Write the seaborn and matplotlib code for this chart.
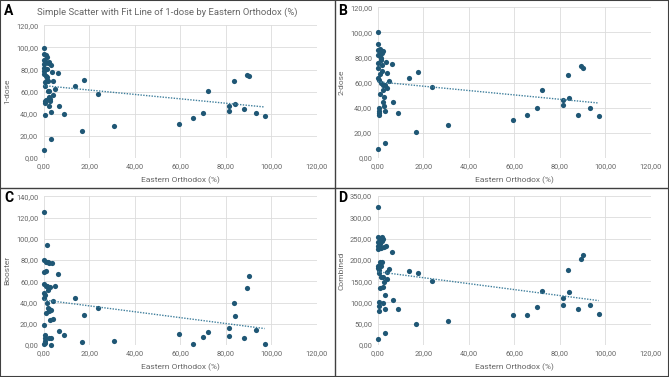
import matplotlib
matplotlib.use("Agg")
import matplotlib.pyplot as plt
from matplotlib.ticker import FuncFormatter, MultipleLocator
import seaborn as sns

# Eastern Orthodox share (%) per country, shared by all four panels
eastern_orthodox = [
    0.1, 0.1, 0.2, 0.2, 0.2, 0.3, 0.3, 0.4, 0.4, 0.5, 0.5, 0.6,
    0.8, 0.9, 1.0, 1.0,
    1.3, 1.4, 1.5, 1.6, 1.7,
    1.9, 2.0, 2.2, 2.3, 2.4,
    2.5, 2.7, 2.8, 3.0, 3.1,
    3.5, 4.1, 4.3, 5.0,
    6.2, 6.7, 9.1, 3.1, 0.0,
    13.6, 17.0, 17.9, 23.9, 30.8,
    59.5, 65.5, 69.9, 72.4, 81.3, 81.3, 83.5, 84.2, 87.9, 89.2, 90.3, 93.5, 97.1,
]

dose1 = [
    99.8, 93.8, 88.6, 85.0, 81.0, 78.7, 76.0, 68.4, 65.0, 51.9, 50.0, 39.2,
    93.5, 86.8, 74.2, 52.5,
    91.6, 80.5, 73.0, 70.5, 60.3,
    85.6, 70.0, 60.3, 55.0, 47.0,
    86.8, 53.4, 51.9, 41.6, 84.0,
    77.8, 70.0, 57.3, 62.0,
    77.2, 47.0, 40.1, 17.5, 7.5,
    65.1, 24.7, 70.8, 57.9, 28.9,
    30.4, 35.9, 41.0, 60.9, 47.0, 42.5, 70.0, 49.1, 44.3, 75.4, 74.2, 40.4, 38.3,
]

dose2 = [
    100.0, 91.0, 86.0, 82.2, 75.3, 71.4, 63.7, 62.3, 39.5, 37.7, 36.0, 34.5,
    87.0, 81.4, 66.8, 51.0,
    83.3, 79.3, 78.0, 59.4, 74.0,
    83.8, 69.5, 58.0, 53.8, 44.6,
    85.4, 48.3, 41.4, 37.1, 58.5,
    76.4, 67.4, 55.4, 61.3,
    74.8, 44.8, 35.5, 12.2, 7.2,
    63.7, 20.7, 68.7, 56.5, 26.0,
    30.0, 34.2, 40.0, 54.4, 45.9, 42.2, 66.0, 48.0, 34.5, 73.0, 71.4, 39.5, 33.4,
]

booster = [
    124.8, 80.2, 68.9, 57.9, 49.0, 44.3, 19.2, 9.7, 6.9, 3.5, 47.0, 2.0,
    78.6, 69.2, 55.7, 30.5,
    93.7, 78.0, 39.6, 56.0, 35.0,
    78.6, 52.2, 34.0, 6.6, 31.8,
    77.0, 55.0, 23.9, 6.3, 33.0,
    77.4, 24.2, 41.8, 55.3,
    67.3, 12.9, 9.4, 0.0, 0.5,
    44.0, 3.1, 28.6, 35.2, 3.5,
    10.7, 1.3, 7.2, 12.6, 16.0, 8.8, 40.0, 27.4, 6.3, 54.0, 65.4, 13.8, 1.0,
]

combined = [
    324.0, 253.7, 241.0, 233.4, 224.7, 185.6, 181.0, 175.4, 168.4, 100.2, 90.8, 80.0,
    246.0, 236.5, 194.0, 134.0,
    252.0, 228.7, 184.8, 159.0, 195.0,
    253.7, 243.5, 159.7, 136.3, 97.9,
    248.0, 230.0, 148.8, 117.5, 84.6,
    231.8, 170.7, 154.3, 178.5,
    219.0, 105.0, 84.6, 29.0, 13.3,
    173.0, 48.6, 168.0, 149.6, 57.0,
    71.3, 71.3, 88.5, 127.6, 109.6, 93.2, 176.0, 123.7, 84.6, 202.8, 210.6, 94.0, 72.0,
]

sns.set_style("white")
plt.rcParams["font.family"] = ["Roboto", "DejaVu Sans"]

W, H = 669, 377
fig = plt.figure(figsize=(W / 100, H / 100), dpi=100)

dot = "#1f5775"
txt = "#666666"
comma = FuncFormatter(lambda v, p: f"{v:.2f}".replace(".", ","))

# letter, y label, values, y max, y step, plot box in pixels (left, right, top, bottom), panel origin
panels = [
    ("A", "1-dose", dose1, 120, 20, (43.7, 316.7, 25.3, 158.0), (0, 0)),
    ("B", "2-dose", dose2, 120, 20, (377.7, 650.7, 7.3, 158.0), (334, 0)),
    ("C", "Booster", booster, 140, 20, (43.7, 316.7, 196.3, 345.0), (0, 187)),
    ("D", "Combined", combined, 350, 50, (377.7, 650.7, 196.0, 345.0), (334, 187)),
]

for letter, ylab, vals, ymax, ystep, box, origin in panels:
    l, r, t, b = box
    ax = fig.add_axes([l / W, 1 - b / H, (r - l) / W, (b - t) / H])
    sns.regplot(x=eastern_orthodox, y=vals, ax=ax, ci=None, truncate=True,
                scatter_kws={"s": 14, "color": dot, "linewidths": 0, "clip_on": False, "alpha": 1},
                line_kws={"color": "#3f7f9c", "lw": 1.0, "ls": (0, (1, 1))})
    ax.set_xlim(0, 120)
    ax.set_ylim(0, ymax)
    ax.xaxis.set_major_locator(MultipleLocator(20))
    ax.yaxis.set_major_locator(MultipleLocator(ystep))
    ax.xaxis.set_major_formatter(comma)
    ax.yaxis.set_major_formatter(comma)
    ax.grid(True, color="#dcdcdc", lw=0.6)
    ax.set_axisbelow(True)
    for s in ax.spines.values():
        s.set_visible(False)
    ax.tick_params(length=0, labelsize=5.3, labelcolor=txt, pad=4)
    ax.set_xlabel("Eastern Orthodox (%)", fontsize=6, color=txt, labelpad=4)
    ax.set_ylabel(ylab, fontsize=6, color=txt, labelpad=4)
    ox, oy = origin
    fig.text((ox + 4) / W, 1 - (oy + 11) / H, letter, fontsize=10, fontweight="bold",
             color="black", va="center", ha="left")

fig.text(167 / W, 1 - 12 / H, "Simple Scatter with Fit Line of 1-dose by Eastern Orthodox (%)",
         fontsize=6.8, color=txt, ha="center", va="center")

# panel frames
fig.add_artist(plt.Line2D([334.5 / W] * 2, [0, 1], color="#404040", lw=1.0))
fig.add_artist(plt.Line2D([0, 1], [1 - 187.5 / H] * 2, color="#404040", lw=1.0))
fig.add_artist(plt.Rectangle((0, 0), 1, 1, fill=False, ec="#404040", lw=1.5))

fig.savefig("out.png", dpi=100)
